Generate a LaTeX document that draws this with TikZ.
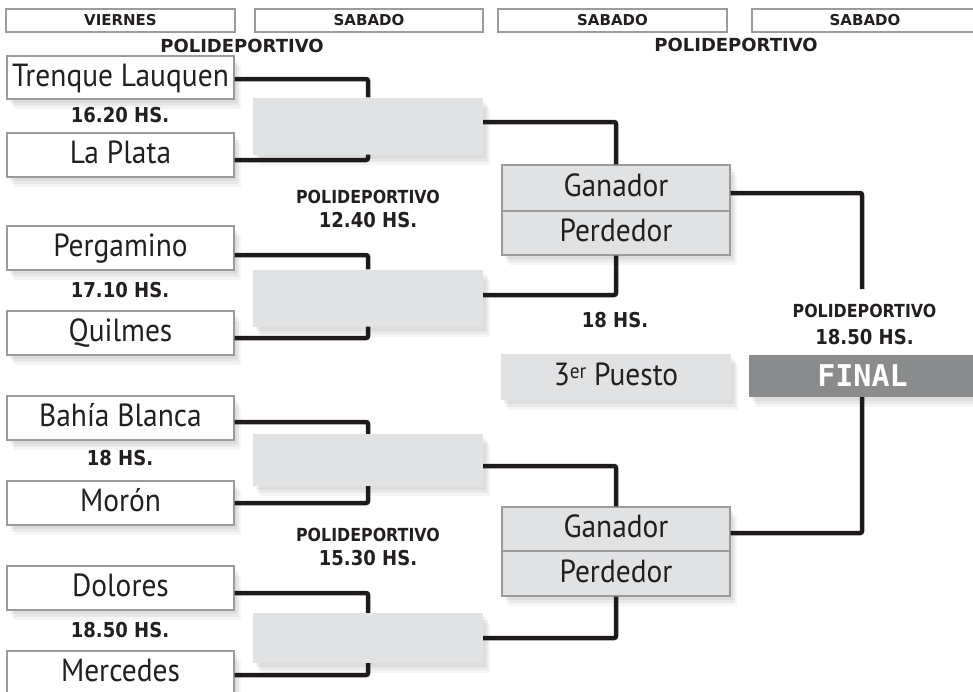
\documentclass[tikz,border=0pt]{standalone}
\usepackage{fontspec}
\setmainfont{PT Sans}
\newfontfamily\team{PT Sans}[FakeStretch=0.92]
\newfontfamily\hdr{DejaVu Sans}
\newfontfamily\lab{DejaVu Sans}[FakeStretch=0.88]
\newfontfamily\fin{DejaVu Sans Mono}
\usetikzlibrary{shadows,calc}
\definecolor{ink}{HTML}{231F20}
\definecolor{lgray}{HTML}{E1E2E4}
\definecolor{bgray}{HTML}{9B9B9B}
\definecolor{dgray}{HTML}{8A8B8D}
\definecolor{wirec}{HTML}{1E1A1B}
\tikzset{
  softshadow/.style={
    general shadow={fill=black,opacity=.05,shadow xshift=3pt,shadow yshift=-4pt},
    general shadow={fill=black,opacity=.05,shadow xshift=5pt,shadow yshift=-7pt},
    general shadow={fill=black,opacity=.04,shadow xshift=7pt,shadow yshift=-10pt}},
  teambox/.style={draw=bgray, line width=1.2pt, fill=white, minimum width=227pt,
    minimum height=44pt, inner sep=0pt, softshadow, text=ink,
    font=\team\fontsize{32}{32}\selectfont, text height=22pt, text depth=5pt},
  matchbox/.style={fill=lgray, minimum width=230pt, inner sep=0pt, softshadow},
  gpbox/.style={draw=bgray, line width=1.2pt, fill=lgray, minimum width=228pt,
    inner sep=0pt, softshadow, text=ink,
    font=\team\fontsize{32}{32}\selectfont, text height=22pt, text depth=5pt},
  header/.style={draw=bgray, line width=1.2pt, fill=white, minimum height=23pt,
    inner sep=0pt, text=ink, font=\hdr\bfseries\fontsize{15}{15}\selectfont},
  toplbl/.style={inner sep=0pt, text=ink, font=\hdr\bfseries\fontsize{18}{18}\selectfont},
  timelbl/.style={inner sep=0pt, text=ink, font=\lab\bfseries\fontsize{20.5}{20.5}\selectfont},
  polilbl/.style={inner sep=0pt, text=ink, font=\lab\bfseries\fontsize{18}{18}\selectfont},
  wire/.style={draw=wirec, line width=4.5pt, rounded corners=2pt}
}
\begin{document}
\begin{tikzpicture}[x=1pt,y=-1pt]
\useasboundingbox (0,0) rectangle (973,691);
% headers
\node[header, minimum width=229pt] (h1) at (120.5,20.5) {VIERNES};
\node[header, minimum width=228pt] (h2) at (369,20.5) {SABADO};
\node[header, minimum width=229pt] (h3) at (612.5,20.5) {SABADO};
\node[header, minimum width=226pt] (h4) at (865,20.5) {SABADO};
\node[toplbl] (p1) at (242,46) {POLIDEPORTIVO};
\node[toplbl] (p2) at (736,45) {POLIDEPORTIVO};
% teams
\node[teambox, minimum height=43pt] (t1) at (120.5,77.5) {Trenque Lauquen};
\node[teambox] (t2) at (120.5,155) {La Plata};
\node[teambox] (t3) at (120.5,248) {Pergamino};
\node[teambox] (t4) at (120.5,333) {Quilmes};
\node[teambox] (t5) at (120.5,418) {Bahía Blanca};
\node[teambox] (t6) at (120.5,503) {Morón};
\node[teambox] (t7) at (120.5,588) {Dolores};
\node[teambox] (t8) at (120.5,673) {Mercedes};
% times
\node[timelbl] (s1) at (120,115) {16.20 HS.};
\node[timelbl] (s2) at (120,290) {17.10 HS.};
\node[timelbl] (s3) at (120,458) {18 HS.};
\node[timelbl] (s4) at (120,630) {18.50 HS.};
% second round
\node[matchbox, minimum height=57pt] (g1) at (368,126) {};
\node[matchbox, minimum height=57pt] (g2) at (368,298) {};
\node[matchbox, minimum height=52pt] (g3) at (368,460) {};
\node[matchbox, minimum height=50pt] (g4) at (368,638) {};
\node[polilbl] (m1) at (368,197) {POLIDEPORTIVO};
\node[timelbl] (m2) at (368,220) {12.40 HS.};
\node[polilbl] (m3) at (368,534.5) {POLIDEPORTIVO};
\node[timelbl] (m4) at (368,558) {15.30 HS.};
% semis
\node[gpbox, minimum height=46pt] (GU) at (616,188) {Ganador};
\node[gpbox, minimum height=44pt] (PU) at (616,233) {Perdedor};
\node[gpbox, minimum height=44pt] (GL) at (616,529) {Ganador};
\node[gpbox, minimum height=45pt] (PL) at (616,573.5) {Perdedor};
\node[timelbl] (m5) at (615,320) {18 HS.};
\node[polilbl] (m6) at (864.5,310.5) {POLIDEPORTIVO};
\node[timelbl] (m7) at (864.5,337) {18.50 HS.};
% 3rd place and final
\node[matchbox, minimum height=46pt, text=ink, font=\team\fontsize{32}{32}\selectfont,
  text height=22pt, text depth=5pt] (tp) at (616,377)
  {3\raisebox{7.5pt}{\fontsize{21}{21}\selectfont er} Puesto};
\node[fill=dgray, minimum width=227pt, minimum height=42pt, inner sep=0pt, softshadow,
  text=white, font=\fin\bfseries\fontsize{30}{30}\selectfont] (final) at (862.5,376) {FINAL};
\coordinate (fu) at (862,289);
% connectors
\draw[wire] ($(t1.east)+(0,1.5)$) -| (g1.north);
\draw[wire] ($(t2.east)+(0,5)$) -| (g1.south);
\draw[wire] ($(t3.east)+(0,7)$) -| (g2.north);
\draw[wire] ($(t4.east)+(0,5)$) -| (g2.south);
\draw[wire] ($(t5.east)+(0,4)$) -| (g3.north);
\draw[wire] (t6.east) -| (g3.south);
\draw[wire] ($(t7.east)+(0,5)$) -| (g4.north);
\draw[wire] ($(t8.east)+(0,2)$) -| (g4.south);
\draw[wire] ($(g1.east)+(0,-4)$) -| (GU.north);
\draw[wire] (PU.south) |- ($(g2.east)+(0,-3)$);
\draw[wire] ($(g3.east)+(0,6)$) -| (GL.north);
\draw[wire] (PL.south) |- (g4.east);
\draw[wire] ($(GU.east)+(0,5)$) -| (fu);
\draw[wire] ($(GL.east)+(0,4)$) -| ($(final.south)+(-0.5,0)$);
\end{tikzpicture}
\end{document}
